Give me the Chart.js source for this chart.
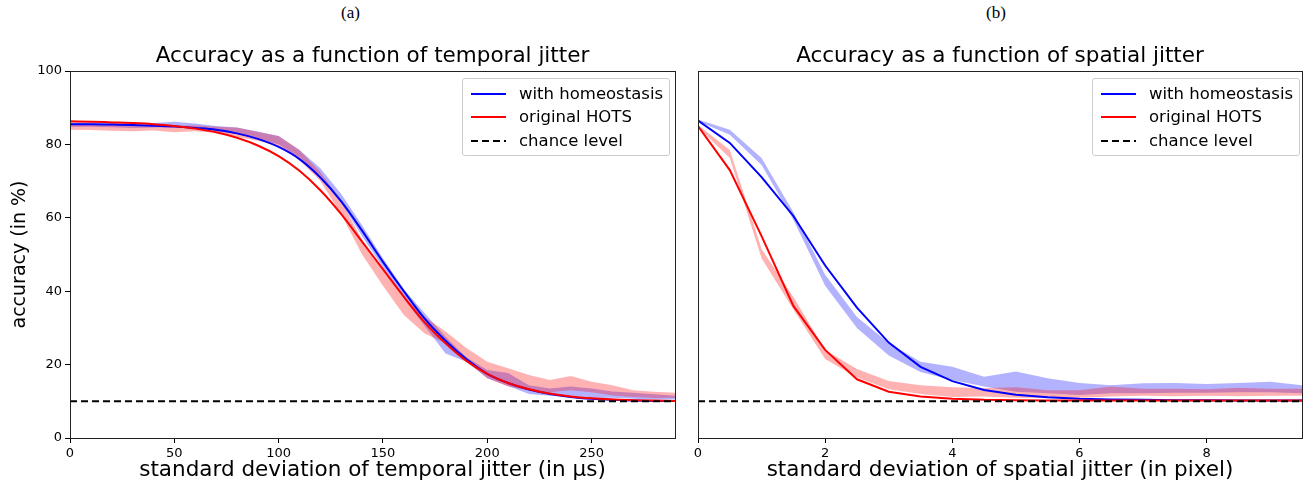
<!DOCTYPE html>
<html>
<head>
<meta charset="utf-8">
<script src="https://cdn.jsdelivr.net/npm/chart.js@4.4.1/dist/chart.umd.min.js"></script>
<style>
  body { margin: 0; background: #fff; width: 1307px; height: 489px; overflow: hidden; position: relative; font-family: "DejaVu Sans", sans-serif; }
  .panel { position: absolute; top: 0; height: 489px; }
  .tag { position: absolute; top: 3px; font-family: "Liberation Serif", serif; font-size: 17px; color: #000; }
  .legend { position: absolute; border: 1px solid #ccc; border-radius: 3px; background: rgba(255,255,255,0.8); width: 206px; height: 76px; }
  .row { position: absolute; left: 0; height: 20px; width: 100%; }
  .row .ln { position: absolute; left: 8px; top: 9px; width: 35px; height: 2px; }
  .row span { position: absolute; left: 56px; top: 0; font-size: 16.5px; line-height: 20px; color: #000; white-space: nowrap; }
</style>
</head>
<body>
<div class="tag" style="left:341px">(a)</div>
<div class="tag" style="left:986px">(b)</div>
<div class="panel" style="left:0;width:690px"><canvas id="temporal"></canvas></div>
<div class="panel" style="left:690px;width:617px"><canvas id="spatial"></canvas></div>

<div class="legend" style="left:462px;top:78px">
  <div class="row" style="top:5px"><div class="ln" style="background:#0000ff"></div><span>with homeostasis</span></div>
  <div class="row" style="top:28px"><div class="ln" style="background:#ff0000"></div><span>original HOTS</span></div>
  <div class="row" style="top:52px"><div class="ln" style="background:repeating-linear-gradient(90deg,#000 0 7px,transparent 7px 11px)"></div><span>chance level</span></div>
</div>
<div class="legend" style="left:1092px;top:78px">
  <div class="row" style="top:5px"><div class="ln" style="background:#0000ff"></div><span>with homeostasis</span></div>
  <div class="row" style="top:28px"><div class="ln" style="background:#ff0000"></div><span>original HOTS</span></div>
  <div class="row" style="top:52px"><div class="ln" style="background:repeating-linear-gradient(90deg,#000 0 7px,transparent 7px 11px)"></div><span>chance level</span></div>
</div>

<script>
// temporal jitter (in µs)
const tempX = [0,10,20,30,40,50,60,70,80,90,100,110,120,130,140,150,160,170,180,190,200,210,220,230,240,250,260,270,280,290];
const tempHomeo = [85.5,85.5,85.4,85.3,85.1,84.9,84.5,84.0,83.0,81.5,79.3,76.0,71.0,64.5,56.5,48.0,40.0,32.5,26.5,21.5,17.5,15.0,13.2,12.0,11.2,10.7,10.4,10.2,10.1,10.05];
const tempHomeoLow = [84.8,84.8,84.7,84.5,84.6,84.8,84.3,83.5,82.8,81.5,80.0,76.5,71.5,64.0,55.0,46.5,38.0,30.5,23.0,20.8,16.3,14.2,12.0,11.5,11.5,10.9,11.0,10.7,10.5,10.5];
const tempHomeoHigh = [86.0,86.0,85.9,85.8,85.8,86.2,85.7,85.0,84.6,83.5,82.3,78.5,73.5,66.5,58.0,49.0,40.5,34.0,27.6,22.0,18.5,17.7,14.4,13.5,14.0,13.5,12.7,12.3,11.9,11.5];
const tempOrig = [86.3,86.2,86.0,85.8,85.5,85.0,84.3,83.3,81.8,79.7,76.8,72.8,67.5,61.0,53.5,46.0,38.5,31.5,25.8,21.0,17.5,15.0,13.3,12.1,11.3,10.8,10.5,10.3,10.2,10.1];
const tempOrigLow = [84.0,83.9,83.7,83.6,83.8,83.3,83.6,83.2,82.1,81.0,79.5,75.7,70.0,61.0,50.0,41.5,33.5,28.5,25.8,21.0,16.3,14.0,13.0,12.5,13.0,12.5,11.6,11.2,10.9,11.0];
const tempOrigHigh = [86.0,85.5,85.3,85.2,85.4,85.0,85.2,84.8,84.6,83.4,82.3,78.5,72.5,64.5,54.0,46.0,38.5,33.0,29.0,24.5,20.8,19.0,17.2,15.8,16.9,15.3,14.4,13.0,12.6,12.3];

// spatial jitter (in pixel)
const spatX = [0,0.5,1,1.5,2,2.5,3,3.5,4,4.5,5,5.5,6,6.5,7,7.5,8,8.5,9,9.5];
const spatHomeo = [86.5,80.4,71.1,60.5,47.0,35.5,26.0,19.4,15.5,13.1,11.8,11.1,10.7,10.5,10.4,10.3,10.3,10.2,10.2,10.2];
const spatHomeoLow = [86.3,82.6,74.4,59.5,41.5,30.0,22.5,18.0,15.8,14.0,12.6,12.2,11.7,12.2,12.2,12.3,12.3,12.5,12.5,12.2];
const spatHomeoHigh = [86.8,84.0,76.3,61.5,44.5,33.0,25.9,20.8,19.4,16.7,18.1,16.3,15.0,14.4,14.9,15.0,14.7,15.0,15.3,14.4];
const spatOrig = [85.0,73.0,55.0,36.0,24.0,16.0,12.6,11.3,10.7,10.4,10.3,10.2,10.2,10.2,10.2,10.2,10.2,10.2,10.2,10.2];
const spatOrigLow = [84.7,76.3,49.0,35.0,21.5,16.5,13.3,12.0,11.2,11.3,11.0,10.9,11.0,11.3,11.5,11.4,11.5,11.4,11.5,11.5];
const spatOrigHigh = [85.3,78.5,51.5,38.4,24.0,18.8,15.5,14.4,13.8,13.6,13.8,13.0,13.0,14.0,13.4,13.4,13.3,13.7,13.4,13.4];

const chanceLevel = 10;
const yTicks = [0, 20, 40, 60, 80, 100];

const pts = (xs, ys) => xs.map((x, i) => ({ x: x, y: ys[i] }));

// box around the plot area, like matplotlib spines
const frame = {
  id: 'frame',
  afterDatasetsDraw(chart) {
    const a = chart.chartArea, c = chart.ctx;
    c.save();
    c.strokeStyle = '#222';
    c.lineWidth = 1;
    c.strokeRect(Math.round(a.left) + 0.5, Math.round(a.top) + 0.5, Math.round(a.right - a.left), Math.round(a.bottom - a.top));
    c.restore();
  }
};

// subplot title centred above the plot area
const panelTitle = {
  id: 'panelTitle',
  afterDraw(chart, args, opts) {
    const a = chart.chartArea, c = chart.ctx;
    c.save();
    c.font = '21.5px "DejaVu Sans"';
    c.fillStyle = '#000';
    c.textAlign = 'center';
    c.textBaseline = 'alphabetic';
    c.fillText(opts.text, (a.left + a.right) / 2, a.top - 9);
    c.restore();
  }
};

function makeDatasets(xs, homeo, homeoLow, homeoHigh, orig, origLow, origHigh, xMax, smooth) {
  const line = { pointRadius: 0, borderWidth: 2, tension: 0, cubicInterpolationMode: smooth ? 'monotone' : 'default' };
  return [
    { label: 'chance level', data: [{ x: 0, y: chanceLevel }, { x: xMax, y: chanceLevel }], borderColor: '#000', borderWidth: 2, borderDash: [7, 4], pointRadius: 0, fill: false },
    Object.assign({ label: 'original HOTS', data: pts(xs, orig), borderColor: '#ff0000', fill: false }, line),
    Object.assign({ label: 'with homeostasis', data: pts(xs, homeo), borderColor: '#0000ff', fill: false }, line),
    { label: 'orig high', data: pts(xs, origHigh), borderWidth: 0, pointRadius: 0, fill: '+1', backgroundColor: 'rgba(255,0,0,0.3)' },
    { label: 'orig low', data: pts(xs, origLow), borderWidth: 0, pointRadius: 0, fill: false },
    { label: 'homeo high', data: pts(xs, homeoHigh), borderWidth: 0, pointRadius: 0, fill: '+1', backgroundColor: 'rgba(0,0,255,0.3)' },
    { label: 'homeo low', data: pts(xs, homeoLow), borderWidth: 0, pointRadius: 0, fill: false }
  ];
}

const tickFont = { family: 'DejaVu Sans', size: 13 };
const xLabelFont = { family: 'DejaVu Sans', size: 21.5 };
const yLabelFont = { family: 'DejaVu Sans', size: 19 };

function makeChart(id, cfg) {
  const canvas = document.getElementById(id);
  canvas.style.width = cfg.width + 'px';
  canvas.style.height = '489px';
  return new Chart(canvas, {
    type: 'line',
    data: { datasets: cfg.datasets },
    plugins: [frame, panelTitle],
    options: {
      responsive: false,
      animation: false,
      events: [],
      layout: { padding: { top: 71, right: cfg.padRight, left: 0, bottom: 0 } },
      plugins: {
        legend: { display: false },
        tooltip: { enabled: false },
        panelTitle: { text: cfg.title }
      },
      scales: {
        x: {
          type: 'linear',
          min: 0,
          max: cfg.xMax,
          border: { display: false },
          grid: { drawOnChartArea: false, drawTicks: true, tickLength: 5, tickColor: '#000' },
          ticks: { stepSize: cfg.xStep, includeBounds: false, maxRotation: 0, padding: 3, color: '#000', font: tickFont },
          title: { display: true, text: cfg.xTitle, color: '#000', font: xLabelFont, padding: { top: 0, bottom: 6 } },
          afterFit(s) { s.height = 51; }
        },
        y: {
          min: 0,
          max: 100,
          border: { display: false },
          grid: { display: cfg.yLabels, drawOnChartArea: false, drawTicks: true, tickLength: 5, tickColor: '#000' },
          afterBuildTicks(s) { s.ticks = yTicks.map(v => ({ value: v })); },
          ticks: { display: cfg.yLabels, padding: 3, color: '#000', font: tickFont },
          title: { display: cfg.yLabels, text: 'accuracy (in %)', color: '#000', font: yLabelFont, padding: { top: 9, bottom: 0 } },
          afterFit(s) { s.width = cfg.yWidth; }
        }
      }
    }
  });
}

makeChart('temporal', {
  width: 690, padRight: 15, yWidth: 70, yLabels: true, xMax: 290, xStep: 50,
  title: 'Accuracy as a function of temporal jitter',
  xTitle: 'standard deviation of temporal jitter (in µs)',
  datasets: makeDatasets(tempX, tempHomeo, tempHomeoLow, tempHomeoHigh, tempOrig, tempOrigLow, tempOrigHigh, 290, true)
});

makeChart('spatial', {
  width: 617, padRight: 5, yWidth: 8, yLabels: false, xMax: 9.5, xStep: 2,
  title: 'Accuracy as a function of spatial jitter',
  xTitle: 'standard deviation of spatial jitter (in pixel)',
  datasets: makeDatasets(spatX, spatHomeo, spatHomeoLow, spatHomeoHigh, spatOrig, spatOrigLow, spatOrigHigh, 9.5, false)
});
</script>
</body>
</html>
